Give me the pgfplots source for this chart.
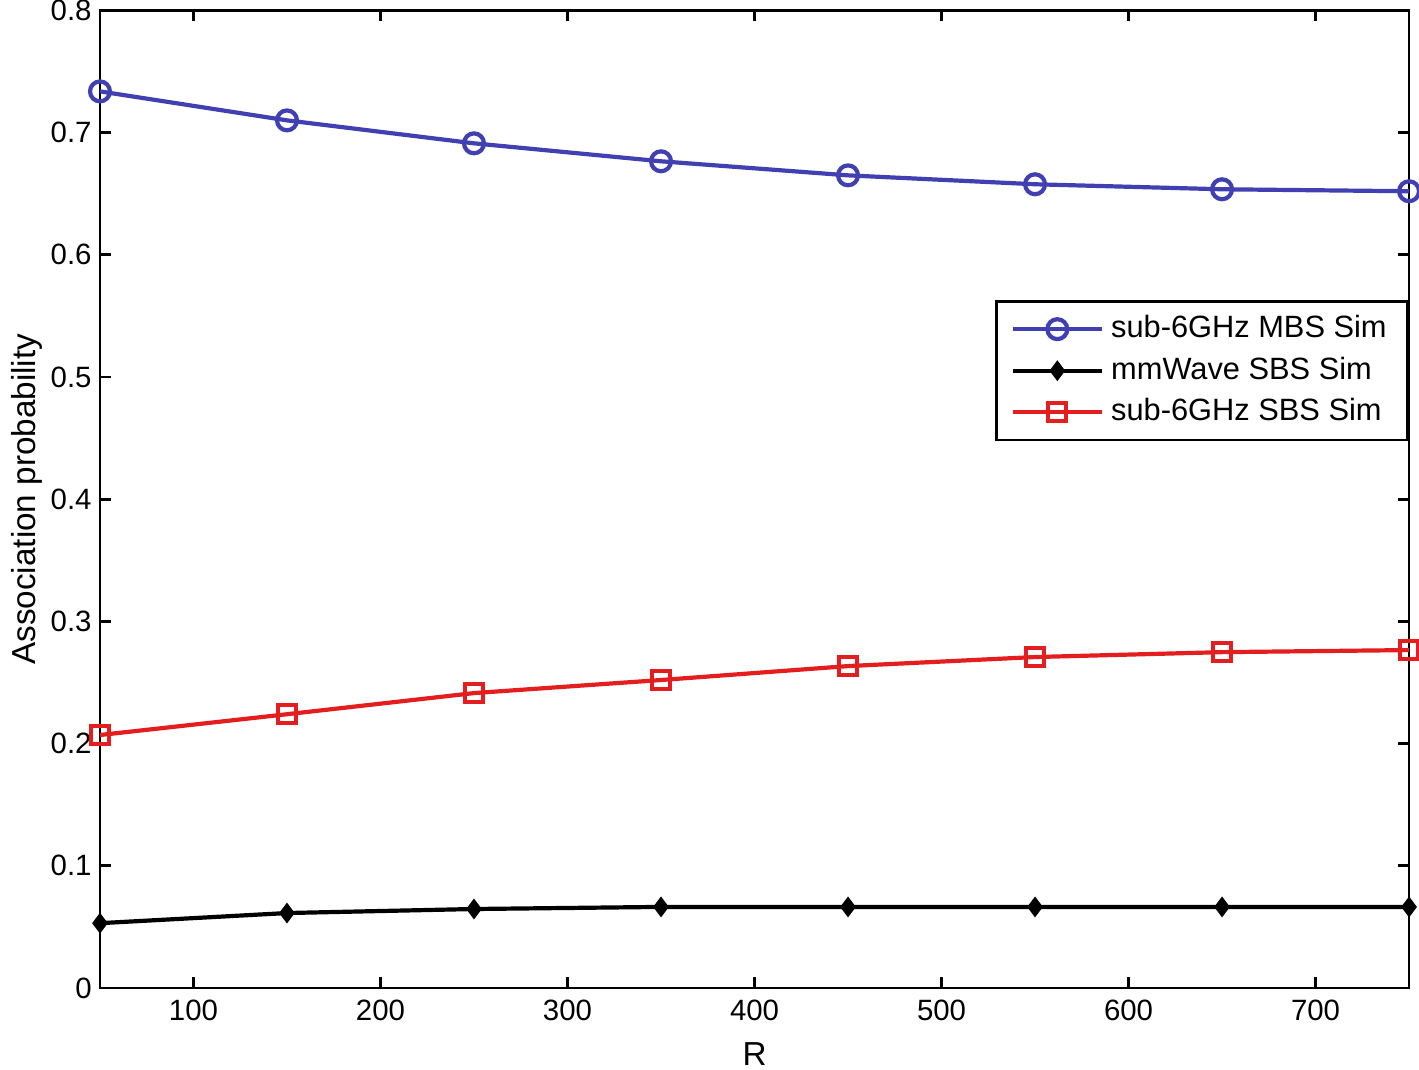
\documentclass[border=0pt]{standalone}
\usepackage{pgfplots}
\pgfplotsset{compat=1.18}
\usepackage{fontspec}
\setmainfont{Liberation Sans}
\definecolor{mblue}{RGB}{64,64,178}
\definecolor{mred}{RGB}{228,30,30}
\begin{document}
\begin{tikzpicture}
\begin{axis}[
  scale only axis,
  width=131.5mm, height=98.2mm,
  xmin=50, xmax=750, ymin=0, ymax=0.8,
  xtick={100,200,...,700},
  ytick={0,0.1,...,0.8},
  yticklabels={0,0.1,0.2,0.3,0.4,0.5,0.6,0.7,0.8},
  tick align=inside,
  major tick length=1.1mm,
  tick style={black, line width=0.8pt},
  axis line style={line width=0.8pt},
  ticklabel style={font=\fontsize{8.4}{10}\selectfont},
  yticklabel style={xshift=0.4mm, inner ysep=0pt},
  /pgf/number format/assume math mode=true,
  xlabel={R}, ylabel={Association probability},
  label style={font=\fontsize{9.5}{11}\selectfont},
  xlabel style={yshift=-0.6mm, inner ysep=1pt},
  ylabel style={yshift=-1.6mm},
  legend style={at={(axis cs:750,0.563)}, anchor=north east, draw=black, line width=0.8pt,
    font=\fontsize{8.8}{11}\selectfont, row sep=0pt, inner xsep=4pt, inner ysep=2pt},
  legend cell align=left,
  legend image code/.code={\draw[mark repeat=2,mark phase=2] plot coordinates {(0cm,0cm) (0.45cm,0cm) (0.9cm,0cm)};},
]
\addplot[mblue, line width=1.2pt, mark=o, mark size=1.0mm, mark options={line width=1.2pt}] coordinates {
(50,0.7337) (150,0.710) (250,0.6912) (350,0.6765) (450,0.665) (550,0.6577) (650,0.6536) (750,0.652)};
\addlegendentry{sub-6GHz MBS Sim}
\addplot[black, line width=1.2pt, mark=diamond*, mark size=0.7mm] coordinates {
(50,0.053) (150,0.0613) (250,0.0646) (350,0.0663) (450,0.0663) (550,0.0663) (650,0.0663) (750,0.0663)};
\addlegendentry{mmWave SBS Sim}
\addplot[mred, line width=1.2pt, mark=square, mark size=0.9mm, mark options={line width=1.2pt}] coordinates {
(50,0.207) (150,0.224) (250,0.2413) (350,0.252) (450,0.2634) (550,0.2708) (650,0.2748) (750,0.2765)};
\addlegendentry{sub-6GHz SBS Sim}
\end{axis}
\end{tikzpicture}
\end{document}
